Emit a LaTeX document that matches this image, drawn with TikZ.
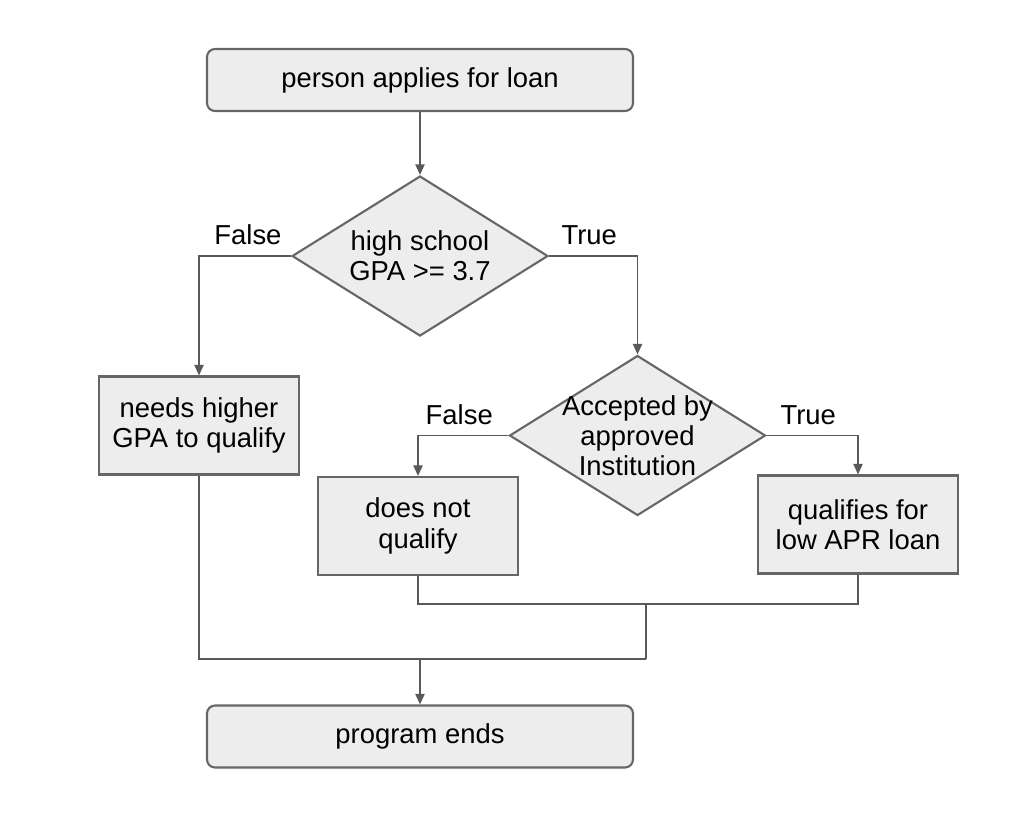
\documentclass[tikz,border=0pt]{standalone}
\usepackage{fontspec}
\setmainfont{Liberation Sans}
\usetikzlibrary{arrows.meta,shapes.geometric,positioning,calc}

\begin{document}
\begin{tikzpicture}[
    box/.style={draw=black!60, fill=black!7, line width=0.6pt, minimum width=2cm, minimum height=0.98cm, align=center, font=\fontsize{7.8}{8.6}\selectfont, inner sep=0pt},
    term/.style={box, rounded corners=0.08cm, minimum width=4.26cm, minimum height=0.62cm},
    dec/.style={draw=black!60, fill=black!7, line width=0.6pt, diamond, minimum width=2.56cm, minimum height=1.6cm, inner sep=0pt},
    dtext/.style={align=center, font=\fontsize{7.8}{8.6}\selectfont, inner sep=0pt},
    arr/.style={-{Triangle[length=3pt, width=2.6pt]}, draw=black!65, line width=0.5pt},
    ln/.style={draw=black!65, line width=0.5pt},
    lbl/.style={font=\fontsize{7.8}{8.6}\selectfont}
]
\useasboundingbox (0,0) rectangle (10.11,-8.25);

\node[term] (start) at (4.20,-0.80) {person applies for loan};
\node[dec] (gpa) at (4.20,-2.56) {};
\node[dtext] (gpat) at (gpa) {high school\\GPA >= 3.7};
\node[box] (low) at (1.99,-4.255) {needs higher\\GPA to qualify};
\node[dec] (acc) at (6.375,-4.355) {};
\node[dtext] (acct) at (acc) {Accepted by\\approved\\Institution};
\node[box] (noq) at (4.18,-5.26) {does not\\qualify};
\node[box] (apr) at (8.58,-5.245) {qualifies for\\low APR loan};
\node[term] (stop) at (4.20,-7.365) {program ends};

\coordinate (m1) at (6.46,-6.04);
\coordinate (m2) at (6.46,-6.59);

\draw[arr] (start) -- (gpa);
\draw[arr] (gpa.west) -| node[lbl, pos=0.25, above=-0.4pt, xshift=0.03cm] {False} (low.north);
\draw[arr] (gpa.east) -| node[lbl, pos=0.25, above=-0.4pt, xshift=-0.04cm] {True} (acc.north);
\draw[arr] (acc.west) -| node[lbl, pos=0.25, above=-0.4pt, xshift=-0.04cm] {False} (noq.north);
\draw[arr] (acc.east) -| node[lbl, pos=0.25, above=-0.4pt, xshift=-0.04cm] {True} (apr.north);
\draw[ln] (noq.south) |- (m1) -| (apr.south);
\draw[ln] (m1) -- (m2);
\draw[ln] (low.south) |- (m2);
\draw[arr] (stop.north |- m2) -- (stop.north);
\end{tikzpicture}
\end{document}
